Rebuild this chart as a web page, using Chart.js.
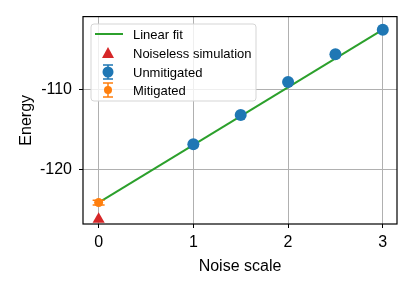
<!DOCTYPE html>
<html>
<head>
<meta charset="utf-8">
<script src="https://cdn.jsdelivr.net/npm/chart.js@4/dist/chart.umd.min.js"></script>
<style>
  html, body { margin: 0; padding: 0; background: #fff; }
  #wrap { width: 415px; height: 293px; }
</style>
</head>
<body>
<div id="wrap"><canvas id="chart" width="415" height="293"></canvas></div>
<script>
// Datos
const noiseScales = [1, 1.5, 2, 2.5, 3];
const unmitigated = [-116.85, -113.15, -109.0, -105.5, -102.4];
const unmitigatedErr = [0.35, 0.35, 0.35, 0.35, 0.35];
const mitigatedX = [0];
const mitigated = [-124.2];
const mitigatedErr = [0.3];
const noiselessX = [0];
const noiseless = [-126.3];
const fitX = [0, 3];
const fitY = [-124.2, -102.4];
const xTicks = [0, 1, 2, 3];
const yTicks = [-120, -110];

const FONT = '"Liberation Sans", Arial, sans-serif';
const BLUE = '#1f77b4', ORANGE = '#ff7f0e', GREEN = '#2ca02c', RED = '#d62728';

const pts = (xs, ys) => xs.map((x, i) => ({ x: x, y: ys[i] }));

// Barras de error con tapas
function drawErrorBars(ctx, chart, xs, ys, errs, color, capHalf) {
    const sx = chart.scales.x, sy = chart.scales.y;
    ctx.save();
    ctx.strokeStyle = color;
    ctx.lineWidth = 1.5;
    xs.forEach((x, i) => {
        const px = sx.getPixelForValue(x);
        const top = sy.getPixelForValue(ys[i] + errs[i]);
        const bot = sy.getPixelForValue(ys[i] - errs[i]);
        ctx.beginPath();
        ctx.moveTo(px, top); ctx.lineTo(px, bot);
        ctx.moveTo(px - capHalf, top); ctx.lineTo(px + capHalf, top);
        ctx.moveTo(px - capHalf, bot); ctx.lineTo(px + capHalf, bot);
        ctx.stroke();
    });
    ctx.restore();
}

const errorBarPlugin = {
    id: 'errorBars',
    beforeDatasetDraw(chart, args) {
        const ctx = chart.ctx;
        if (args.index === 2) drawErrorBars(ctx, chart, noiseScales, unmitigated, unmitigatedErr, BLUE, 4);
        if (args.index === 3) drawErrorBars(ctx, chart, mitigatedX, mitigated, mitigatedErr, ORANGE, 6);
    }
};

// Marco negro y leyenda propia
const framePlugin = {
    id: 'frameLegend',
    afterDraw(chart) {
        const ctx = chart.ctx;
        const a = chart.chartArea;
        ctx.save();
        ctx.strokeStyle = '#000';
        ctx.lineWidth = 1.2;
        ctx.strokeRect(a.left, a.top, a.right - a.left, a.bottom - a.top);

        // caja de la leyenda
        const bx = 91, by = 24, bw = 165, bh = 77, r = 3;
        ctx.beginPath();
        ctx.moveTo(bx + r, by);
        ctx.arcTo(bx + bw, by, bx + bw, by + bh, r);
        ctx.arcTo(bx + bw, by + bh, bx, by + bh, r);
        ctx.arcTo(bx, by + bh, bx, by, r);
        ctx.arcTo(bx, by, bx + bw, by, r);
        ctx.closePath();
        ctx.fillStyle = 'rgba(255,255,255,0.8)';
        ctx.fill();
        ctx.strokeStyle = '#d5d5d5';
        ctx.lineWidth = 1;
        ctx.stroke();

        const hx = 108;
        const rows = [34, 53, 72, 90];
        // Linear fit
        ctx.strokeStyle = GREEN; ctx.lineWidth = 2;
        ctx.beginPath(); ctx.moveTo(95, rows[0]); ctx.lineTo(123, rows[0]); ctx.stroke();
        // Noiseless
        ctx.fillStyle = RED;
        ctx.beginPath();
        ctx.moveTo(hx, rows[1] - 6); ctx.lineTo(hx + 6, rows[1] + 5); ctx.lineTo(hx - 6, rows[1] + 5);
        ctx.closePath(); ctx.fill();
        // Unmitigated
        ctx.strokeStyle = BLUE; ctx.lineWidth = 1.5;
        ctx.beginPath();
        ctx.moveTo(hx, rows[2] - 7); ctx.lineTo(hx, rows[2] + 7);
        ctx.moveTo(hx - 5, rows[2] - 7); ctx.lineTo(hx + 5, rows[2] - 7);
        ctx.moveTo(hx - 5, rows[2] + 7); ctx.lineTo(hx + 5, rows[2] + 7);
        ctx.stroke();
        ctx.fillStyle = BLUE;
        ctx.beginPath(); ctx.arc(hx, rows[2], 5.5, 0, Math.PI * 2); ctx.fill();
        // Mitigated
        ctx.strokeStyle = ORANGE;
        ctx.beginPath();
        ctx.moveTo(hx, rows[3] - 7); ctx.lineTo(hx, rows[3] + 7);
        ctx.moveTo(hx - 5, rows[3] - 7); ctx.lineTo(hx + 5, rows[3] - 7);
        ctx.moveTo(hx - 5, rows[3] + 7); ctx.lineTo(hx + 5, rows[3] + 7);
        ctx.stroke();
        ctx.fillStyle = ORANGE;
        ctx.beginPath(); ctx.arc(hx, rows[3], 4, 0, Math.PI * 2); ctx.fill();

        const labels = chart.data.datasets.map(d => d.label);
        ctx.fillStyle = '#000';
        ctx.font = '13px ' + FONT;
        ctx.textBaseline = 'middle';
        ctx.textAlign = 'left';
        labels.forEach((t, i) => ctx.fillText(t, 133, rows[i] + 1));
        ctx.restore();
    }
};

const axisFont = { size: 16, family: FONT };

new Chart(document.getElementById('chart').getContext('2d'), {
    type: 'scatter',
    data: {
        datasets: [
            {
                type: 'line',
                label: 'Linear fit',
                data: pts(fitX, fitY),
                borderColor: GREEN,
                borderWidth: 2,
                pointRadius: 0,
                fill: false,
                tension: 0,
                order: 5
            },
            {
                label: 'Noiseless simulation',
                data: pts(noiselessX, noiseless),
                pointStyle: 'triangle',
                pointRadius: 7,
                backgroundColor: RED,
                borderWidth: 0,
                clip: false,
                order: 1
            },
            {
                label: 'Unmitigated',
                data: pts(noiseScales, unmitigated),
                pointRadius: 6,
                backgroundColor: BLUE,
                borderWidth: 0,
                order: 2
            },
            {
                label: 'Mitigated',
                data: pts(mitigatedX, mitigated),
                pointRadius: 4.5,
                backgroundColor: ORANGE,
                borderWidth: 0,
                order: 0
            }
        ]
    },
    options: {
        responsive: false,
        animation: false,
        devicePixelRatio: 1,
        layout: { padding: { top: 16, right: 18, left: 0, bottom: 0 } },
        plugins: { legend: { display: false }, tooltip: { enabled: false } },
        scales: {
            x: {
                type: 'linear',
                min: -0.165,
                max: 3.15,
                afterBuildTicks: s => { s.ticks = xTicks.map(v => ({ value: v })); },
                afterFit: s => { s.height = 69; },
                grid: { color: '#b0b0b0', lineWidth: 1, tickColor: '#000', tickLength: 4 },
                border: { display: false },
                ticks: { color: '#000', font: axisFont, padding: 5, maxRotation: 0 },
                title: { display: true, text: 'Noise scale', color: '#000', font: axisFont, padding: { top: 4, bottom: 17 } }
            },
            y: {
                min: -126.9,
                max: -100.75,
                afterBuildTicks: s => { s.ticks = yTicks.map(v => ({ value: v })); },
                afterFit: s => { s.width = 83; },
                grid: { color: '#b0b0b0', lineWidth: 1, tickColor: '#000', tickLength: 4 },
                border: { display: false },
                ticks: { color: '#000', font: axisFont, padding: 7, callback: v => String(v) },
                title: { display: true, text: 'Energy', color: '#000', font: axisFont, padding: { top: 17, bottom: 6 } }
            }
        }
    },
    plugins: [errorBarPlugin, framePlugin]
});
</script>
</body>
</html>
